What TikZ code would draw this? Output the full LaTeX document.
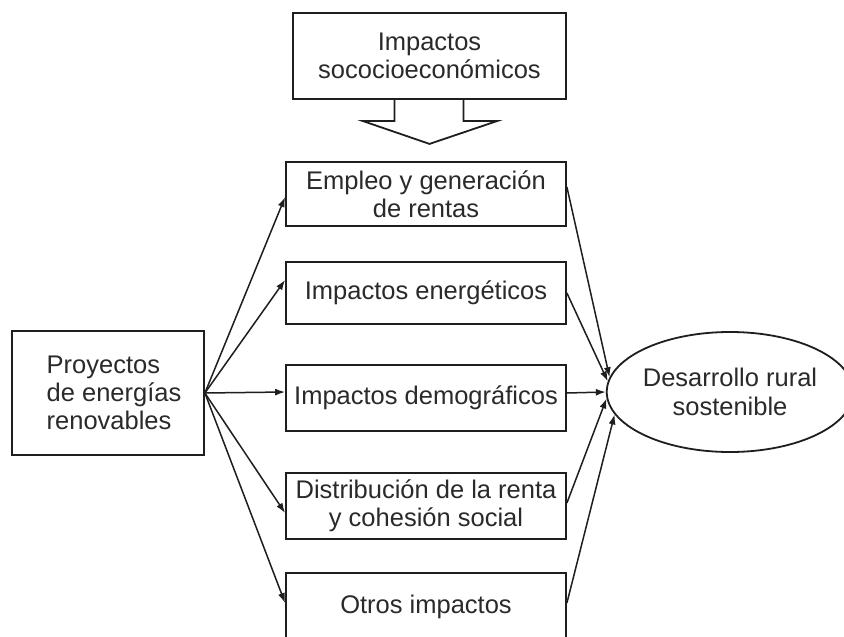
\documentclass[tikz,border=0pt]{standalone}
\usepackage{fontspec}
\setmainfont{Liberation Sans}
\usetikzlibrary{shapes.geometric,arrows.meta,calc}
\definecolor{linec}{HTML}{1E1E1E}
\definecolor{textc}{HTML}{2A2A2A}
\begin{document}
\begin{tikzpicture}[x=1pt,y=-1pt,
  box/.style={draw=linec, line width=1.8pt, rectangle, align=center, inner sep=0pt,
    font=\fontsize{25.5}{28}\selectfont, text=textc},
  conn/.style={-{Latex[length=10pt,width=7pt]}, line width=1.5pt, draw=linec}]
\useasboundingbox (0,0) rectangle (844,637);
\clip (0,0) rectangle (844,637);
\fill[white] (0,0) rectangle (844,637);

\node[box, minimum width=273pt, minimum height=86pt] (top) at (429.5,56) {Impactos\\sococioeconómicos};
\draw[linec, line width=1.8pt, line join=miter]
  ($(top.south)+(-35,0)$) -- ++(0,21) -- ++(-32,0) -- ($(top.south)+(0,44)$)
  -- ($(top.south)+(68,21)$) -- ($(top.south)+(34,21)$) -- ($(top.south)+(34,0)$);

\node[box, minimum width=280pt, minimum height=64pt] (b1) at (426,194) {Empleo y generación\\de rentas};
\node[box, minimum width=280pt, minimum height=62pt] (b2) at (426,293) {Impactos energéticos};
\node[box, minimum width=280pt, minimum height=66pt] (b3) at (426,398) {Impactos demográficos};
\node[box, minimum width=280pt, minimum height=66pt] (b4) at (426,506) {Distribución de la renta\\y cohesión social};
\node[box, minimum width=280pt, minimum height=68pt] (b5) at (426,607) {Otros impactos};

\node[box, minimum width=192pt, minimum height=124pt, align=left] (src) at (108,393)
  {\hspace*{12pt}Proyectos\\\hspace*{12pt}de energías\\\hspace*{12pt}renovables};

\node[draw=linec, line width=1.8pt, ellipse, minimum width=228pt, minimum height=120pt,
  inner sep=0pt, align=center, font=\fontsize{25.5}{29}\selectfont, text=textc] (ell) at (730,392)
  {Desarrollo rural\\sostenible};

\draw[conn] (src.east) -- ([yshift=-3pt]b1.west);
\draw[conn] (src.east) -- ([yshift=13pt]b2.west);
\draw[conn] (src.east) -- ([yshift=6pt]b3.west);
\draw[conn] (src.east) -- ([yshift=-7pt]b4.west);
\draw[conn] (src.east) -- ([yshift=4pt]b5.west);

\draw[conn] ([yshift=7pt]b1.east) -- (ell.173);
\draw[conn] (b2.east) -- (ell.175);
\draw[conn] ([yshift=5pt]b3.east) -- (ell.180);
\draw[conn] ([yshift=3pt]b4.east) -- (ell.183);
\draw[conn] ([yshift=4pt]b5.east) -- (ell.191);
\end{tikzpicture}
\end{document}
